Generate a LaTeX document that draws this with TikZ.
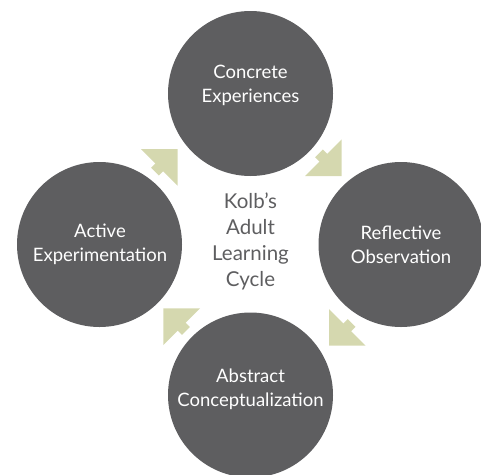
\documentclass[tikz,border=0pt]{standalone}
\usepackage{fontspec}
\setmainfont{Lato}
\definecolor{circgray}{HTML}{5E5E60}
\definecolor{arrowgreen}{HTML}{D5D8AF}
\definecolor{hubgray}{HTML}{5E5E60}
\begin{document}
\begin{tikzpicture}[x=1pt,y=-1pt,
  stage/.style={circle,fill=circgray,minimum size=165pt,inner sep=0pt},
  stagetext/.style={text=white,align=center,font=\fontsize{18.5}{24}\selectfont},
  hubtext/.style={text=hubgray,align=center,font=\fontsize{20.5}{26}\selectfont},
  cyclearrow/.pic={
    \fill[arrowgreen] (0,0) -- (-25.95,-25.95) -- (-25.95,25.95) -- cycle;
    \fill[arrowgreen] (-25,-5.5) rectangle (-32,5.5);
  }]
\useasboundingbox (0,0) rectangle (481,474);
\clip (0,0) rectangle (481,474);
\node[stage] (ce) at (250.5,93.5) {};
\node[stage] (ro) at (401,244.5) {};
\node[stage] (ac) at (250.5,395) {};
\node[stage] (ae) at (99.5,244.5) {};
\node[stagetext] (cet) at (250.5,85) {Concrete\\Experiences};
\node[stagetext] (rot) at (401,244.7) {Reflective\\Observation};
\node[stagetext] (act) at (250.5,389) {Abstract\\Conceptualization};
\node[stagetext] (aet) at (100,244.7) {Active\\Experimentation};
\node[hubtext] (hub) at (250.5,241) {Kolb’s\\Adult\\Learning\\Cycle};
\pic[rotate=-45] at (341.7,176) {cyclearrow};
\pic[rotate=-135] at (329,345.7) {cyclearrow};
\pic[rotate=135] at (163.3,308.3) {cyclearrow};
\pic[rotate=45] at (177.7,149) {cyclearrow};
\end{tikzpicture}
\end{document}
